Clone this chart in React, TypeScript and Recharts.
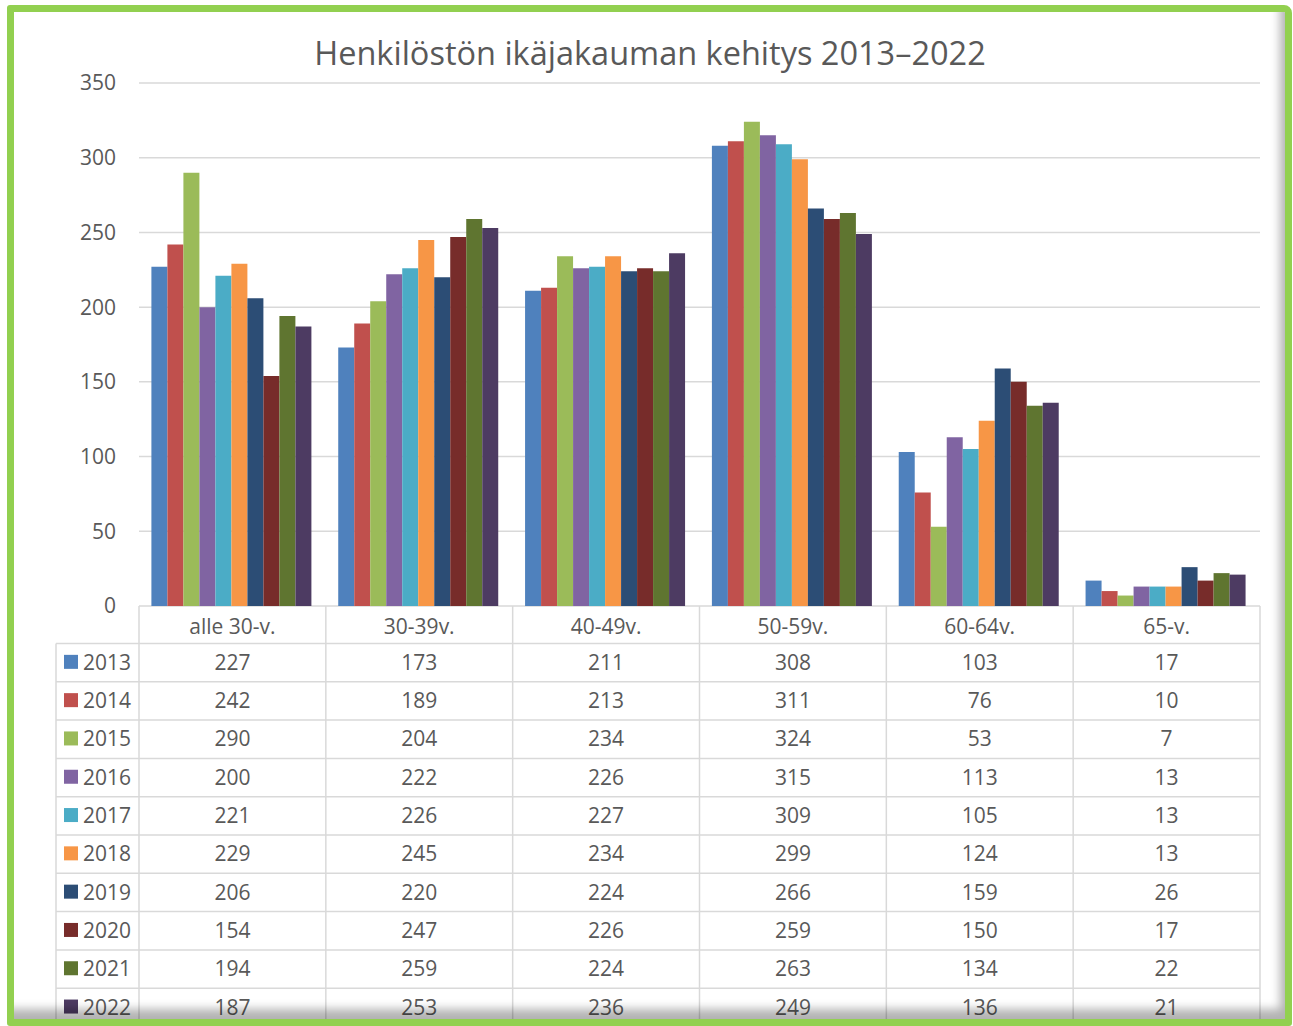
import { BarChart, Bar, XAxis, YAxis, CartesianGrid } from "recharts";

const categories = ["alle 30-v.", "30-39v.", "40-49v.", "50-59v.", "60-64v.", "65-v."];
const years = ["2013", "2014", "2015", "2016", "2017", "2018", "2019", "2020", "2021", "2022"];

const v2013 = [227, 173, 211, 308, 103, 17];
const v2014 = [242, 189, 213, 311, 76, 10];
const v2015 = [290, 204, 234, 324, 53, 7];
const v2016 = [200, 222, 226, 315, 113, 13];
const v2017 = [221, 226, 227, 309, 105, 13];
const v2018 = [229, 245, 234, 299, 124, 13];
const v2019 = [206, 220, 224, 266, 159, 26];
const v2020 = [154, 247, 226, 259, 150, 17];
const v2021 = [194, 259, 224, 263, 134, 22];
const v2022 = [187, 253, 236, 249, 136, 21];

const yTicks = [0, 50, 100, 150, 200, 250, 300, 350];

const values = [v2013, v2014, v2015, v2016, v2017, v2018, v2019, v2020, v2021, v2022];
const colors = [
  "#4F81BD", "#C0504D", "#9BBB59", "#8064A2", "#4BACC6",
  "#F79646", "#2C4D75", "#772C2A", "#5F7530", "#4D3B62",
];

const data = categories.map((name, i) => {
  const row: Record<string, string | number> = { name };
  years.forEach((yr, k) => {
    row[yr] = values[k][i];
  });
  return row;
});

const FONT = "'Open Sans', sans-serif";
const TEXT = "#595959";
const LINE = "#D9D9D9";
const HEADER_H = 37.5;
const ROW_H = 38.3;
const LEGEND_LEFT = 56;

// each x tick draws one column of the data table below the plot
function TableTick(props: any) {
  const { x, y, payload, index, width, visibleTicksCount } = props;
  const n = visibleTicksCount || categories.length;
  const bw = (typeof width === "number" ? width : 1121) / n;
  const left = x - bw / 2;
  const right = x + bw / 2;
  const bottom = y + HEADER_H + ROW_H * years.length + 30;
  const rowLines = years.map((_, i) => y + HEADER_H + ROW_H * i);

  return (
    <g fontFamily={FONT} fontSize={21} fill={TEXT}>
      <text x={x} y={y + 19.5} textAnchor="middle" dominantBaseline="central" fill={TEXT}>
        {payload.value}
      </text>
      {index === 0 && (
        <line x1={left} x2={left} y1={y} y2={bottom} stroke={LINE} strokeWidth={1.5} />
      )}
      <line x1={right} x2={right} y1={y} y2={bottom} stroke={LINE} strokeWidth={1.5} />
      {rowLines.concat([y + HEADER_H + ROW_H * years.length]).map((ly, i) => (
        <line key={i} x1={left} x2={right} y1={ly} y2={ly} stroke={LINE} strokeWidth={1.5} />
      ))}
      {years.map((yr, k) => (
        <text
          key={yr}
          x={x}
          y={y + HEADER_H + ROW_H * (k + 0.5) - 0.8}
          textAnchor="middle"
          dominantBaseline="central"
          fill={TEXT}
        >
          {values[k][payload.index ?? index]}
        </text>
      ))}
      {index === 0 && (
        <g>
          <line
            x1={LEGEND_LEFT}
            x2={LEGEND_LEFT}
            y1={y + HEADER_H}
            y2={bottom}
            stroke={LINE}
            strokeWidth={1.5}
          />
          {rowLines.concat([y + HEADER_H + ROW_H * years.length]).map((ly, i) => (
            <line key={i} x1={LEGEND_LEFT} x2={left} y1={ly} y2={ly} stroke={LINE} strokeWidth={1.5} />
          ))}
          {years.map((yr, k) => {
            const cy = y + HEADER_H + ROW_H * (k + 0.5) - 0.8;
            return (
              <g key={yr}>
                <rect x={64} y={cy - 7} width={14} height={14} fill={colors[k]} />
                <text x={83} y={cy} dominantBaseline="central" fill={TEXT}>
                  {yr}
                </text>
              </g>
            );
          })}
        </g>
      )}
    </g>
  );
}

export default function App() {
  return (
    <div style={{ position: "absolute", left: 0, top: 0, width: 1293, height: 1026, background: "#fff", overflow: "hidden" }}>
      <div
        style={{
          position: "absolute",
          left: 0,
          top: 29,
          width: 1300,
          textAlign: "center",
          fontFamily: FONT,
          fontSize: 32.5,
          color: TEXT,
          lineHeight: "48px",
        }}
      >
        Henkilöstön ikäjakauman kehitys 2013–2022
      </div>

      <div style={{ position: "absolute", left: 0, top: 0 }}>
        <BarChart
          width={1293}
          height={1026}
          data={data}
          margin={{ top: 83, right: 33, bottom: 0, left: 0 }}
          barCategoryGap={12.4}
          barGap={0}
        >
          <CartesianGrid vertical={false} stroke={LINE} strokeWidth={1.5} />
          <XAxis
            dataKey="name"
            height={420}
            axisLine={false}
            tickLine={false}
            tickSize={0}
            tickMargin={0}
            interval={0}
            tick={<TableTick />}
          />
          <YAxis
            width={139}
            domain={[0, 350]}
            ticks={yTicks}
            axisLine={false}
            tickLine={false}
            tickSize={0}
            tickMargin={23}
            tick={{ fontFamily: FONT, fontSize: 21, fill: TEXT }}
          />
          {years.map((yr, k) => (
            <Bar key={yr} dataKey={yr} fill={colors[k]} isAnimationActive={false} />
          ))}
        </BarChart>
      </div>

      <div
        style={{
          position: "absolute",
          left: 7,
          top: 5,
          width: 1285,
          height: 1021,
          boxSizing: "border-box",
          border: "7px solid #92D050",
          borderRadius: "3px 8px 3px 3px",
          boxShadow: "inset -9px -14px 10px -4px rgba(0,0,0,0.3)",
          pointerEvents: "none",
        }}
      />
    </div>
  );
}
